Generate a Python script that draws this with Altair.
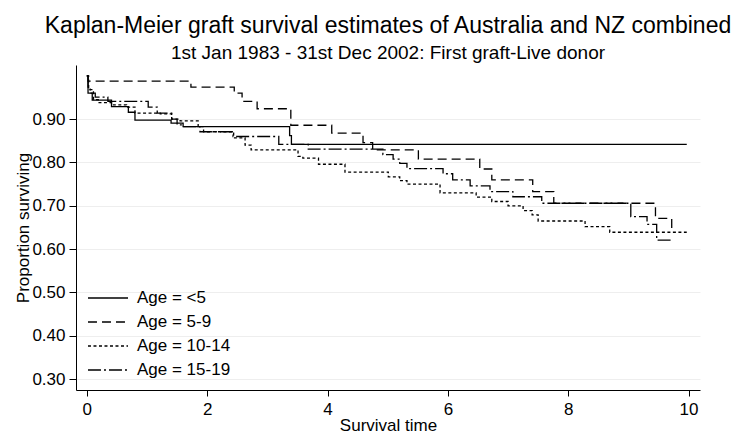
import altair as alt
import pandas as pd

groups = ["Age = <5", "Age = 5-9", "Age = 10-14", "Age = 15-19"]

t_lt5 = [0, 0.02, 0.09, 0.41, 0.69, 0.80, 1.40, 1.60, 3.37, 3.40, 9.97]
s_lt5 = [1.0, 0.96, 0.944, 0.929, 0.916, 0.898, 0.891, 0.883, 0.862, 0.842, 0.842]

t_5_9 = [0, 0.02, 1.73, 2.45, 2.58, 2.83, 3.39, 4.07, 4.59, 4.75, 5.51, 6.53, 6.73, 7.41, 7.76, 9.45, 9.72]
s_5_9 = [1.0, 0.988, 0.974, 0.96, 0.941, 0.924, 0.886, 0.868, 0.846, 0.829, 0.808, 0.785, 0.76, 0.733, 0.706, 0.671, 0.639]

t_10_14 = [0, 0.03, 0.11, 0.19, 0.41, 0.66, 0.80, 1.22, 1.41, 1.55, 1.85, 1.94, 2.44, 2.63, 2.73, 3.51, 3.59,
           3.85, 4.29, 5.01, 5.20, 5.32, 5.87, 6.47, 6.73, 7.00, 7.25, 7.40, 7.50, 8.28, 8.69, 9.97]
s_10_14 = [1.0, 0.968, 0.945, 0.938, 0.933, 0.928, 0.914, 0.912, 0.90, 0.896, 0.883, 0.871, 0.857, 0.84, 0.829, 0.814, 0.81,
           0.796, 0.778, 0.767, 0.758, 0.75, 0.73, 0.72, 0.71, 0.70, 0.689, 0.679, 0.665, 0.652, 0.639, 0.639]

t_15_19 = [0, 0.02, 0.055, 0.14, 0.35, 1.02, 1.17, 1.41, 1.50, 1.60, 1.88, 2.43, 3.19, 3.68, 4.92, 5.09, 5.20,
           5.32, 5.92, 6.08, 6.37, 6.70, 7.08, 7.56, 9.04, 9.31, 9.47, 9.72]
s_15_19 = [1.0, 0.972, 0.96, 0.951, 0.941, 0.928, 0.914, 0.90, 0.887, 0.883, 0.871, 0.86, 0.842, 0.831, 0.818, 0.808, 0.798,
           0.786, 0.774, 0.76, 0.746, 0.733, 0.721, 0.706, 0.675, 0.657, 0.621, 0.621]

x_ticks = [0, 2, 4, 6, 8, 10]
y_ticks = [0.3, 0.4, 0.5, 0.6, 0.7, 0.8, 0.9]

dashes = [[1, 0], [9, 5], [3, 2.5], [13, 3, 2, 3]]

rows = []
for g, ts, ss in zip(groups, [t_lt5, t_5_9, t_10_14, t_15_19], [s_lt5, s_5_9, s_10_14, s_15_19]):
    for i, (t, s) in enumerate(zip(ts, ss)):
        rows.append({"group": g, "t": t, "S": s, "i": i})
df = pd.DataFrame(rows)

FONT = "Liberation Sans"

chart = alt.Chart(df).mark_line(
    interpolate="step-after", color="black", strokeWidth=1.3
).encode(
    x=alt.X("t:Q",
            scale=alt.Scale(domain=[-0.18, 10.19], nice=False, zero=False),
            axis=alt.Axis(values=x_ticks, format="d", title="Survival time", grid=False,
                          tickSize=6, labelPadding=5,
                          titleBaseline="alphabetic", titleY=40,
                          labelFontSize=17, titleFontSize=17, titleFontWeight="normal")),
    y=alt.Y("S:Q",
            scale=alt.Scale(domain=[0.275, 1.025], nice=False, zero=False),
            axis=alt.Axis(values=y_ticks, format=".2f", title="Proportion surviving", grid=True,
                          gridColor="#eeeeee", gridWidth=1, tickSize=7, labelPadding=4, titlePadding=-1,
                          labelFontSize=17, titleFontSize=17, titleFontWeight="normal")),
    strokeDash=alt.StrokeDash("group:N",
                              scale=alt.Scale(domain=groups, range=dashes),
                              legend=alt.Legend(title=None, orient="none", legendX=20, legendY=221,
                                                padding=0, rowPadding=4,
                                                symbolType="M-1.82,0H1.82", symbolSize=484,
                                                symbolStrokeColor="black", symbolStrokeWidth=1.3,
                                                labelFontSize=17, labelFont=FONT, labelColor="black",
                                                labelOffset=17)),
    order="i:Q",
).properties(
    width=624, height=325,
    title=alt.Title("Kaplan-Meier graft survival estimates of Australia and NZ combined",
                    subtitle="1st Jan 1983 - 31st Dec 2002: First graft-Live donor",
                    fontSize=23, subtitleFontSize=19, font=FONT, subtitleFont=FONT,
                    fontWeight="normal", color="black", subtitleColor="black",
                    anchor="middle", offset=2, subtitlePadding=6),
    autosize=alt.AutoSizeParams(type="none"),
    padding={"left": 68, "top": 57, "right": 42, "bottom": 44},
).configure_view(stroke=None).configure_axis(
    labelFont=FONT, titleFont=FONT, labelColor="black", titleColor="black",
    domainColor="black", tickColor="black", domainWidth=1, tickWidth=1,
)

chart.save("out.html", embed_options={"renderer": "svg", "actions": False})
